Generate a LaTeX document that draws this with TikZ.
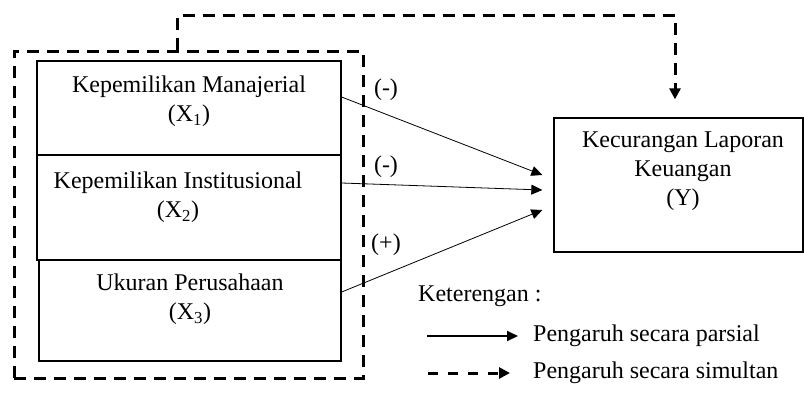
\documentclass[tikz,border=0pt]{standalone}
\usepackage{fontspec}
\setmainfont{Liberation Serif}
\usetikzlibrary{arrows.meta,calc}
\begin{document}
\begin{tikzpicture}[x=1pt,y=-1pt,
  box/.style={draw,line width=1.3pt,inner sep=0pt},
  lbl/.style={font=\fontsize{24}{29}\selectfont,align=center,inner sep=0pt},
  parsial/.style={line width=0.8pt,-{Triangle[length=11pt,width=10pt]}},
  simul/.style={line width=3pt,dash pattern=on 12pt off 8pt},
  legsolid/.style={line width=2pt,-{Triangle[length=11pt,width=10pt]}},
  legdash/.style={line width=3pt,dash pattern=on 10pt off 10pt,-{Triangle[length=11pt,width=11pt]}},
]
\useasboundingbox (0,0) rectangle (804,392);

% independent variable boxes
\node[box,minimum width=304pt,minimum height=94pt] (b1) at (189,108) {};
\node[box,minimum width=304pt,minimum height=105pt] (b2) at (189,207.5) {};
\node[box,minimum width=302pt,minimum height=101pt] (b3) at (190,310.5) {};
\node[lbl] (t1) at (189,101) {Kepemilikan Manajerial\\(X\textsubscript{1})};
\node[lbl] (t2) at (178,197.5) {Kepemilikan Institusional\\(X\textsubscript{2})};
\node[lbl] (t3) at (190,299.5) {Ukuran Perusahaan\\(X\textsubscript{3})};

% dependent variable box
\node[box,minimum width=249pt,minimum height=134pt] (yb) at (678.5,185) {};
\node[lbl] (ty) at (683,171) {Kecurangan Laporan\\Keuangan\\(Y)};

% dashed group box
\node[draw,simul,minimum width=349pt,minimum height=327pt,inner sep=0pt] (grp) at (188.5,214.5) {};

% partial arrows
\draw[parsial] ([yshift=11pt]b1.east) -- ([xshift=-11pt,yshift=10pt]yb.west);
\draw[parsial] ([yshift=24.5pt]b2.east) -- ([xshift=-11pt,yshift=-5pt]yb.west);
\draw[parsial] ([yshift=18.5pt]b3.east) -- ([xshift=-11pt,yshift=-25pt]yb.west);
\node[lbl] (s1) at (386,90) {(-)};
\node[lbl] (s2) at (386,167) {(-)};
\node[lbl] (s3) at (386,245) {(+)};

% simultaneous arrow
\coordinate (c2) at (675,15);
\draw[simul] ([xshift=-11.5pt]grp.north) |- (c2) -- ([yshift=24pt]yb.north -| c2);
\draw[line width=3pt,-{Triangle[length=11pt,width=11pt]}] ([yshift=26pt]yb.north -| c2) -- ([yshift=18pt]yb.north -| c2);

% legend
\node[lbl,anchor=west] (leg) at (418,296) {Keterengan :};
\coordinate (l1a) at (427,336);
\coordinate (l1b) at (518,336);
\draw[legsolid] (l1a) -- (l1b);
\node[lbl,anchor=west] (lt1) at (533,336) {Pengaruh secara parsial};
\coordinate (l2a) at (428,373);
\coordinate (l2b) at (510,373);
\draw[legdash] (l2a) -- (l2b);
\node[lbl,anchor=west] (lt2) at (533,373) {Pengaruh secara simultan};
\end{tikzpicture}
\end{document}
